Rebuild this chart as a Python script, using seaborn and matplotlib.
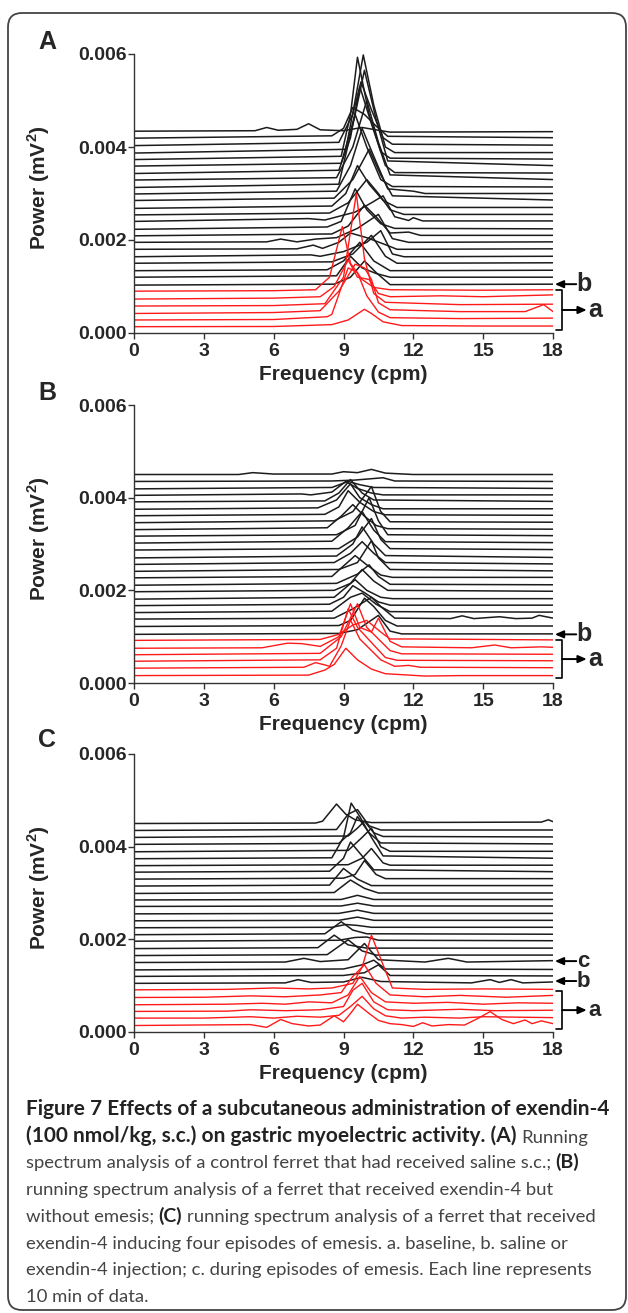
import matplotlib
matplotlib.use('Agg')
import matplotlib.pyplot as plt
import seaborn as sns
import pandas as pd
from matplotlib.patches import FancyBboxPatch
from matplotlib.text import Annotation

sns.set_style('ticks')
plt.rcParams['font.family'] = ['Liberation Sans', 'DejaVu Sans']
plt.rcParams['mathtext.fontset'] = 'custom'
plt.rcParams['mathtext.rm'] = 'Liberation Sans'
plt.rcParams['mathtext.bf'] = 'Liberation Sans:bold'

# Power in units of 1e-4 mV^2, frequency in cpm. Each line = list of (freq, power) vertices.
# Panel A (control, saline)
A_red = [
    [(0, 1.36), (6, 1.4), (8.5, 1.8), (9.2, 2.8), (9.9, 5.1), (10.2, 4.2), (10.7, 2.4), (11.5, 1.6), (15, 1.5), (18, 1.5)],
    [(0, 2.8), (6, 2.9), (8.3, 3.5), (8.5, 4.0), (9.2, 14.0), (9.6, 13.0), (10.0, 8.0), (10.5, 4.5), (11, 3.3), (14, 3.1), (18, 3.2)],
    [(0, 4.2), (6, 4.4), (8.0, 4.8), (8.8, 9.0), (9.5, 14.8), (9.9, 14.0), (10.2, 11.5), (10.5, 6.5), (11, 5.0), (14, 4.6), (16.8, 4.6), (17.6, 6.1), (18, 4.6)],
    [(0, 5.8), (6, 5.9), (8.2, 6.3), (9.0, 12.0), (9.55, 30.0), (9.9, 16.0), (10.3, 8.5), (10.8, 6.6), (14, 6.1), (18, 6.2)],
    [(0, 7.3), (6, 7.5), (8.0, 7.8), (8.6, 10.0), (9.2, 15.7), (9.6, 12.0), (10.1, 11.5), (10.5, 8.5), (11, 7.8), (13.2, 8.0), (15, 7.8), (18, 8.2)],
    [(0, 9.0), (6, 9.1), (7.8, 9.3), (8.4, 12.0), (8.95, 22.9), (9.3, 15.0), (9.8, 11.5), (10.3, 9.8), (11, 9.3), (15, 9.2), (18, 9.3)],
]
A_black = [
    [(0, 10.3), (8.6, 10.5), (9.3, 12.0), (9.9, 15.5), (10.4, 13.0), (11.0, 10.4), (18, 10.5)],
    [(0, 12.0), (8.7, 12.3), (9.3, 16.5), (9.8, 14.0), (10.4, 12.8), (11.0, 12.0), (18, 12.0)],
    [(0, 13.4), (8.3, 13.6), (9.0, 15.5), (9.7, 19.5), (10.3, 15.5), (11.0, 13.4), (18, 13.5)],
    [(0, 15.0), (8.5, 15.3), (9.4, 17.0), (10.2, 21.0), (10.8, 16.5), (11.3, 15.0), (18, 15.1)],
    [(0, 16.4), (7.6, 16.8), (8.0, 16.5), (9.0, 17.5), (10.0, 19.5), (10.6, 22.0), (11.1, 17.0), (11.6, 16.4), (18, 16.5)],
    [(0, 18.0), (7.0, 18.1), (7.7, 18.9), (8.1, 18.2), (8.8, 19.5), (9.3, 21.5), (10.0, 20.5), (10.8, 19.0), (11.3, 18.0), (18, 18.1)],
    [(0, 19.5), (5.7, 19.6), (6.3, 20.2), (7.0, 19.6), (7.8, 20.2), (8.7, 20.5), (9.6, 22.5), (10.5, 25.5), (11.1, 20.3), (11.8, 19.5), (18, 19.6)],
    [(0, 20.9), (8.5, 21.3), (9.2, 23.0), (9.9, 27.5), (10.4, 25.0), (11.0, 21.5), (11.8, 21.7), (12.3, 21.0), (18, 21.0)],
    [(0, 22.3), (8.3, 22.8), (8.9, 24.0), (9.5, 31.0), (10.0, 26.5), (10.6, 23.5), (11.2, 22.5), (18, 22.4)],
    [(0, 24.0), (7.5, 24.6), (8.2, 24.3), (9.5, 26.0), (10.2, 28.0), (10.7, 29.5), (11.2, 25.0), (11.8, 24.2), (12.0, 24.8), (12.4, 24.1), (18, 24.1)],
    [(0, 25.4), (8.4, 25.8), (9.2, 28.0), (10.0, 33.0), (10.5, 30.0), (11.0, 26.5), (11.6, 25.5), (18, 25.5)],
    [(0, 26.8), (8.5, 27.3), (9.1, 30.0), (9.6, 36.0), (10.1, 32.0), (10.7, 28.5), (11.3, 27.0), (18, 27.0)],
    [(0, 28.5), (8.6, 29.0), (9.4, 33.0), (10.1, 39.5), (10.6, 34.0), (11.1, 29.5), (18, 28.6)],
    [(0, 29.9), (8.7, 30.5), (9.3, 36.0), (9.8, 44.0), (10.3, 38.0), (10.9, 31.0), (12.0, 30.5), (12.5, 30.0), (18, 30.0)],
    [(0, 31.3), (8.8, 32.0), (9.5, 47.0), (10.0, 40.0), (10.6, 33.0), (11.1, 31.5), (18, 31.4)],
    [(0, 32.9), (8.7, 33.4), (9.4, 40.0), (10.0, 50.0), (10.5, 41.0), (11.0, 34.0), (18, 33.0)],
    [(0, 34.3), (8.8, 35.0), (9.3, 42.0), (9.7, 53.0), (10.2, 45.0), (10.8, 36.0), (11.2, 34.5), (18, 34.4)],
    [(0, 35.9), (8.9, 36.5), (9.5, 47.0), (9.9, 56.5), (10.4, 46.0), (10.9, 37.0), (18, 36.0)],
    [(0, 37.3), (8.9, 38.0), (9.3, 47.0), (9.6, 59.3), (10.1, 47.0), (10.6, 39.0), (11.0, 37.6), (18, 37.4)],
    [(0, 38.7), (9.1, 39.5), (9.5, 50.0), (9.85, 59.8), (10.3, 49.0), (10.8, 40.0), (11.2, 38.8), (18, 38.8)],
    [(0, 40.3), (8.8, 41.0), (9.4, 47.0), (9.75, 54.0), (10.2, 48.0), (10.7, 42.0), (11.1, 40.6), (18, 40.4)],
    [(0, 41.9), (8.5, 42.4), (9.0, 44.0), (9.4, 48.5), (9.9, 47.0), (10.4, 44.5), (10.9, 42.3), (18, 42.0)],
    [(0, 43.4), (5.2, 43.5), (5.7, 44.2), (6.2, 43.6), (7.0, 43.8), (7.5, 45.0), (8.0, 43.7), (9.0, 43.5), (9.8, 44.2), (10.5, 43.6), (11.0, 43.2), (18, 43.3)],
]

# Panel B (exendin-4, no emesis)
B_red = [
    [(0, 1.6), (7.5, 1.7), (8.2, 2.8), (8.6, 4.0), (9.1, 7.5), (9.6, 5.0), (10.2, 3.0), (10.8, 2.0), (11.5, 1.8), (12.5, 1.5), (14, 1.6), (18, 1.6)],
    [(0, 3.2), (7.3, 3.4), (7.8, 4.4), (8.2, 3.9), (8.4, 3.6), (8.9, 8.0), (9.3, 13.6), (9.7, 9.5), (10.3, 6.5), (10.6, 5.0), (11.2, 3.6), (11.8, 3.8), (12.3, 3.4), (18, 3.3)],
    [(0, 4.7), (8.0, 5.0), (8.7, 7.5), (9.2, 16.0), (9.6, 12.0), (10.3, 8.2), (10.8, 5.5), (11.3, 4.9), (18, 4.8)],
    [(0, 6.1), (8.0, 6.4), (8.9, 10.0), (9.6, 17.1), (10.0, 12.0), (10.5, 9.5), (11.0, 7.0), (11.5, 6.3), (18, 6.2)],
    [(0, 7.5), (5.5, 7.6), (6.6, 8.6), (7.2, 8.5), (8.0, 7.9), (8.8, 10.0), (9.3, 17.1), (9.7, 12.0), (10.2, 11.0), (10.5, 14.0), (11.0, 9.0), (11.5, 7.8), (14.5, 7.6), (15.5, 8.2), (16.2, 7.6), (17.5, 7.8), (18, 7.7)],
    [(0, 9.2), (8.0, 9.4), (8.8, 10.5), (9.4, 12.5), (10.0, 13.5), (10.6, 11.0), (11.0, 9.5), (12.0, 9.5), (18, 9.3)],
]
B_black = [
    [(0, 10.5), (8.8, 10.7), (9.6, 11.5), (10.5, 14.6), (11.0, 11.2), (11.5, 10.6), (18, 10.6)],
    [(0, 12.2), (8.8, 12.4), (9.3, 13.5), (9.9, 18.3), (10.3, 16.5), (10.8, 13.5), (11.3, 12.3), (18, 12.3)],
    [(0, 13.8), (8.6, 14.0), (9.4, 16.0), (10.2, 18.5), (10.6, 16.5), (11.2, 14.0), (13.6, 13.9), (14.1, 14.5), (14.6, 13.9), (15.7, 14.3), (16.4, 13.9), (17.1, 14.0), (17.4, 14.6), (18, 14.0)],
    [(0, 15.2), (8.5, 15.5), (9.3, 18.5), (9.8, 19.4), (10.4, 17.0), (11.0, 15.4), (18, 15.3)],
    [(0, 16.7), (8.4, 17.0), (9.0, 18.5), (9.4, 21.0), (9.9, 19.5), (10.5, 17.5), (11.0, 16.8), (18, 16.8)],
    [(0, 18.1), (8.6, 18.5), (9.5, 22.3), (10.0, 20.0), (10.6, 18.5), (11.1, 18.2), (18, 18.2)],
    [(0, 19.7), (8.6, 20.0), (9.3, 21.5), (9.8, 24.5), (10.3, 22.0), (10.9, 20.0), (18, 19.8)],
    [(0, 21.1), (8.7, 21.5), (9.6, 23.5), (10.1, 25.5), (10.5, 23.0), (11.0, 21.3), (18, 21.2)],
    [(0, 22.7), (8.5, 23.0), (9.5, 27.5), (10.0, 25.5), (10.6, 23.3), (11.1, 22.8), (18, 22.8)],
    [(0, 24.1), (8.8, 24.5), (9.6, 26.0), (10.2, 30.7), (10.5, 27.0), (11.0, 24.5), (18, 24.2)],
    [(0, 25.6), (8.6, 26.0), (9.3, 28.0), (9.8, 30.5), (10.3, 28.0), (10.8, 26.0), (18, 25.7)],
    [(0, 27.0), (8.7, 27.4), (9.4, 30.0), (9.8, 33.7), (10.3, 30.0), (10.8, 27.5), (18, 27.1)],
    [(0, 28.7), (8.8, 29.0), (9.6, 31.5), (10.2, 35.5), (10.6, 31.0), (11.0, 29.0), (18, 28.8)],
    [(0, 30.2), (8.5, 30.6), (9.2, 33.5), (9.8, 37.0), (10.3, 33.0), (10.8, 30.5), (18, 30.3)],
    [(0, 31.7), (8.7, 32.0), (9.5, 34.0), (10.1, 40.0), (10.5, 35.0), (10.9, 32.0), (18, 31.8)],
    [(0, 33.1), (8.3, 33.5), (8.9, 36.0), (9.4, 38.5), (9.9, 36.0), (10.4, 34.0), (10.9, 33.3), (18, 33.2)],
    [(0, 34.6), (8.6, 35.0), (9.4, 37.0), (10.2, 42.4), (10.6, 37.0), (11.0, 34.8), (18, 34.7)],
    [(0, 36.1), (8.2, 36.4), (8.8, 38.0), (9.2, 41.5), (9.7, 39.0), (10.3, 37.0), (10.8, 36.3), (18, 36.2)],
    [(0, 37.5), (7.9, 37.8), (8.7, 39.5), (9.3, 43.0), (9.7, 40.0), (10.2, 38.5), (10.7, 37.6), (18, 37.6)],
    [(0, 39.1), (8.2, 39.3), (8.8, 41.0), (9.3, 43.9), (9.8, 41.0), (10.3, 39.5), (18, 39.2)],
    [(0, 40.5), (7.2, 40.8), (7.6, 40.6), (8.5, 41.2), (9.1, 43.5), (9.6, 42.0), (10.2, 41.0), (10.7, 40.6), (18, 40.6)],
    [(0, 41.9), (8.5, 42.2), (9.2, 43.5), (9.7, 42.8), (10.3, 42.2), (18, 42.0)],
    [(0, 43.5), (8.5, 43.6), (9.5, 43.8), (10.7, 44.3), (11.2, 43.6), (18, 43.5)],
    [(0, 45.0), (4.5, 45.0), (5.1, 45.4), (6.0, 45.1), (8.5, 45.1), (9.0, 45.6), (9.6, 45.4), (10.2, 46.1), (10.8, 45.3), (12, 45.0), (18, 45.0)],
]

# Panel C (exendin-4, four episodes of emesis)
C_red = [
    [(0, 1.4), (5.0, 1.6), (5.7, 1.0), (6.3, 2.7), (6.8, 1.8), (7.5, 1.3), (8.0, 1.5), (8.6, 3.5), (9.0, 2.2), (9.3, 4.0), (9.6, 6.0), (10.1, 4.0), (10.5, 2.5), (11.0, 1.8), (11.5, 1.6), (12.0, 1.2), (12.4, 2.0), (12.8, 1.3), (13.5, 1.6), (14.2, 1.5), (14.8, 3.0), (15.3, 4.4), (15.8, 2.7), (16.3, 1.8), (16.8, 2.6), (17.1, 1.8), (17.5, 2.4), (18, 1.8)],
    [(0, 3.0), (3, 3.0), (5, 3.3), (6, 3.0), (7, 3.4), (8, 3.2), (8.8, 3.6), (9.3, 5.5), (9.8, 7.7), (10.3, 5.0), (10.8, 3.5), (11.5, 3.0), (12.5, 3.2), (14, 3.0), (15, 3.3), (16.5, 3.2), (18, 3.1)],
    [(0, 4.44), (4, 4.5), (5, 4.8), (6.5, 4.6), (8, 4.8), (9.0, 5.5), (9.4, 9.0), (9.8, 10.5), (10.3, 6.5), (10.9, 4.8), (12, 4.6), (14, 4.9), (15.5, 4.6), (18, 4.7)],
    [(0, 5.88), (4, 6.0), (5.5, 6.2), (6.5, 6.0), (7.5, 6.5), (8.5, 6.3), (9.2, 8.0), (9.7, 12.0), (10.2, 8.5), (10.8, 6.5), (12, 6.2), (13.5, 6.4), (15, 6.0), (16.5, 6.3), (18, 6.2)],
    [(0, 7.45), (3, 7.5), (5, 7.8), (6.5, 7.6), (8, 8.0), (8.9, 8.5), (9.4, 12.0), (9.9, 14.5), (10.4, 10.5), (11.0, 8.0), (12.5, 7.6), (14, 7.9), (16, 7.5), (18, 7.9)],
    [(0, 9.1), (4, 9.2), (6, 9.5), (7.5, 9.3), (8.5, 9.5), (9.4, 10.5), (9.8, 14.0), (10.2, 20.9), (10.7, 14.5), (11.1, 9.5), (12.5, 9.2), (15, 9.3), (18, 9.2)],
]
C_black = [
    [(0, 10.5), (6.5, 10.6), (7.05, 11.3), (7.6, 10.7), (9.0, 10.8), (9.8, 11.8), (10.6, 10.9), (14.5, 10.6), (15.3, 11.3), (15.7, 10.7), (16.2, 11.3), (16.7, 10.6), (18, 10.8)],
    [(0, 12.0), (9.0, 12.2), (9.9, 12.8), (10.5, 14.5), (11.0, 12.2), (18, 12.1)],
    [(0, 13.4), (9.0, 13.6), (9.8, 14.5), (10.3, 15.5), (10.8, 13.6), (18, 13.5)],
    [(0, 15.0), (6.5, 15.1), (7.3, 15.9), (8.0, 15.2), (9.2, 15.6), (9.9, 19.1), (10.5, 15.6), (12.5, 15.1), (13.5, 15.9), (14.3, 15.1), (18, 15.4)],
    [(0, 16.5), (8.3, 16.7), (9.2, 19.9), (9.8, 17.5), (10.4, 16.6), (18, 16.6)],
    [(0, 18.0), (7.9, 18.2), (8.6, 20.9), (9.2, 18.8), (10.0, 18.1), (18, 18.1)],
    [(0, 19.6), (8.8, 19.8), (9.5, 20.4), (10.0, 20.5), (10.5, 19.8), (18, 19.7)],
    [(0, 21.0), (8.2, 21.2), (8.9, 23.8), (9.4, 22.0), (10.0, 21.2), (18, 21.1)],
    [(0, 22.5), (8.5, 22.6), (9.1, 23.2), (9.6, 23.0), (10.2, 22.6), (18, 22.6)],
    [(0, 24.0), (8.8, 24.1), (9.6, 24.8), (10.3, 24.1), (18, 24.1)],
    [(0, 25.5), (8.8, 25.6), (9.6, 26.3), (10.3, 25.6), (18, 25.6)],
    [(0, 27.1), (8.9, 27.2), (9.6, 27.8), (10.3, 27.2), (18, 27.2)],
    [(0, 28.5), (8.9, 28.6), (9.6, 29.5), (10.3, 28.6), (18, 28.6)],
    [(0, 29.9), (8.6, 30.1), (9.3, 32.8), (9.9, 31.0), (10.5, 30.0), (18, 30.0)],
    [(0, 31.5), (8.4, 31.7), (9.0, 35.3), (9.6, 33.0), (10.2, 31.6), (18, 31.6)],
    [(0, 33.0), (9.0, 33.2), (9.5, 34.0), (9.9, 37.0), (10.4, 34.0), (10.8, 33.1), (18, 33.1)],
    [(0, 34.5), (8.4, 34.7), (9.0, 37.5), (9.3, 41.0), (9.8, 38.0), (10.3, 35.0), (18, 34.6)],
    [(0, 35.9), (9.2, 36.1), (9.8, 37.5), (10.2, 39.6), (10.7, 36.5), (11.0, 36.0), (18, 36.0)],
    [(0, 37.4), (8.5, 37.6), (9.0, 42.0), (9.33, 49.4), (9.7, 46.5), (10.2, 42.0), (10.7, 38.0), (18, 37.5)],
    [(0, 38.9), (9.2, 39.2), (9.8, 42.0), (10.2, 44.0), (10.6, 40.0), (11.0, 39.0), (18, 39.0)],
    [(0, 40.5), (8.8, 40.7), (9.3, 43.0), (9.6, 46.5), (10.1, 43.0), (10.6, 40.8), (18, 40.6)],
    [(0, 42.0), (9.2, 42.3), (9.6, 44.0), (9.9, 45.5), (10.3, 43.0), (10.7, 42.2), (18, 42.1)],
    [(0, 43.5), (8.7, 43.7), (9.2, 47.0), (9.6, 48.0), (10.1, 44.5), (10.6, 43.6), (18, 43.6)],
    [(0, 45.0), (7.8, 45.1), (8.1, 45.5), (8.7, 49.2), (9.1, 47.0), (9.5, 45.8), (10.2, 45.2), (17.5, 45.3), (17.8, 45.8), (18, 45.4)],
]

PANELS = [('A', A_red, A_black), ('B', B_red, B_black), ('C', C_red, C_black)]
XTICKS = [0, 3, 6, 9, 12, 15, 18]
YTICKS = [0.000, 0.002, 0.004, 0.006]

CAPTION = [
    [('Figure 7 Effects of a subcutaneous administration of exendin-4', 'bold')],
    [('(100 nmol/kg, s.c.) on gastric myoelectric activity. (A)', 'bold'), ('Running', 'normal')],
    [('spectrum analysis of a control ferret that had received saline s.c.;', 'normal'), ('(B)', 'bold')],
    [('running spectrum analysis of a ferret that received exendin-4 but', 'normal')],
    [('without emesis;', 'normal'), ('(C)', 'bold'), ('running spectrum analysis of a ferret that received', 'normal')],
    [('exendin-4 inducing four episodes of emesis. a. baseline, b. saline or', 'normal')],
    [('exendin-4 injection; c. during episodes of emesis. Each line represents', 'normal')],
    [('10 min of data.', 'normal')],
]


def to_frame(lines, tag):
    rows = []
    for k, pts in enumerate(lines):
        for f, p in pts:
            rows.append({'line': f'{tag}{k}', 'freq': f, 'power': p * 1e-4})
    return pd.DataFrame(rows)


W, H = 628, 1313
fig = plt.figure(figsize=(W / 100, H / 100), dpi=100)

box = FancyBboxPatch((0.08, 0.03), 6.18, 12.97, boxstyle='round,pad=0,rounding_size=0.14',
                     transform=fig.dpi_scale_trans, fc='none', ec='#444444', lw=1.3, zorder=-5)
fig.add_artist(box)

# axes top / bottom pixel rows of each panel
rows_px = [(54, 333), (405, 683), (754, 1032)]
letters_y = [42, 393, 740]
mark_size = [18, 18, 16]
# annotation rows (power) for each panel: b-arrow, optional c-arrow, bracket top/bottom
marks = [
    {'b': 0.00105, 'br': (0.000925, 0.000065)},
    {'b': 0.00105, 'br': (0.000925, 0.000108)},
    {'c': 0.00153, 'b': 0.00110, 'br': (0.00088, 0.000065)},
]

for (letter, red, black), (top, bot), ly, mk, ms in zip(PANELS, rows_px, letters_y, marks, mark_size):
    ax = fig.add_axes([134 / W, 1 - bot / H, 419 / W, (bot - top) / H])
    sns.lineplot(data=to_frame(black, 'k'), x='freq', y='power', units='line', estimator=None,
                 sort=False, color='#1c1c1c', lw=1.1, ax=ax)
    sns.lineplot(data=to_frame(red, 'r'), x='freq', y='power', units='line', estimator=None,
                 sort=False, color='#ff1a1a', lw=1.0, ax=ax)
    ax.set_xlim(0, 18)
    ax.set_ylim(0, 0.006)
    ax.set_xticks(XTICKS)
    ax.set_yticks(YTICKS)
    ax.set_yticklabels([f'{v:.3f}' for v in YTICKS])
    sns.despine(ax=ax)
    for s in ('left', 'bottom'):
        ax.spines[s].set_linewidth(1.0)
        ax.spines[s].set_color('#333333')
    ax.tick_params(axis='both', length=4, width=1.0, color='#333333', labelsize=14)
    ax.tick_params(axis='y', pad=1)
    ax.tick_params(axis='x', pad=3)
    for lab in ax.get_xticklabels() + ax.get_yticklabels():
        lab.set_fontweight('bold')
    ax.set_xlabel('Frequency (cpm)', fontsize=15, fontweight='bold')
    ax.set_ylabel(r'Power (mV$^\mathbf{2}$)', fontsize=15, fontweight='bold')
    ax.xaxis.set_label_coords(0.5, -0.115)
    ax.yaxis.set_label_coords(-0.196, 0.52)

    fig.text(47 / W, 1 - ly / H, letter, fontsize=18, fontweight='bold', ha='center', va='center')

    arrow = dict(arrowstyle='-|>,head_length=0.5,head_width=0.22', color='black', lw=1.4, shrinkA=0, shrinkB=0)
    for key in ('c', 'b'):
        if key in mk:
            y = mk[key]
            ax.annotate('', xy=(18.08, y), xytext=(19.0, y), arrowprops=arrow, annotation_clip=False)
            ax.text(19.02, y, key, fontsize=ms, fontweight='bold', ha='left', va='center', clip_on=False)
    yt, yb = mk['br']
    ax.plot([18.13, 18.39, 18.39, 18.13], [yt, yt, yb, yb], color='black', lw=1.2, clip_on=False)
    ym = (yt + yb) / 2
    ax.annotate('', xy=(19.45, ym), xytext=(18.39, ym), arrowprops=arrow, annotation_clip=False)
    ax.text(19.5, ym, 'a', fontsize=ms, fontweight='bold', ha='left', va='center', clip_on=False)

# caption
cap_font = ['Lato', 'DejaVu Sans']
cap_color = {'bold': '#222222', 'normal': '#444444'}
y0 = 1115
for i, segs in enumerate(CAPTION):
    yb_px = y0 + i * 26.7
    prev = None
    lead_bold = segs[0][1] == 'bold'
    for text, wt in segs:
        size = 13.3 if wt == 'normal' else (15 if lead_bold else 14)
        if prev is None:
            prev = fig.text(26 / W, 1 - yb_px / H, text, fontsize=size, fontweight=wt,
                            family=cap_font, color=cap_color[wt], ha='left', va='baseline')
        else:
            ann = Annotation(text, xy=(1, 0), xycoords=prev, xytext=(4.5, 0), textcoords='offset pixels',
                             fontsize=size, fontweight=wt, family=cap_font, color=cap_color[wt],
                             ha='left', va='bottom')
            fig.add_artist(ann)
            prev = ann

fig.savefig('out.png', dpi=100)
